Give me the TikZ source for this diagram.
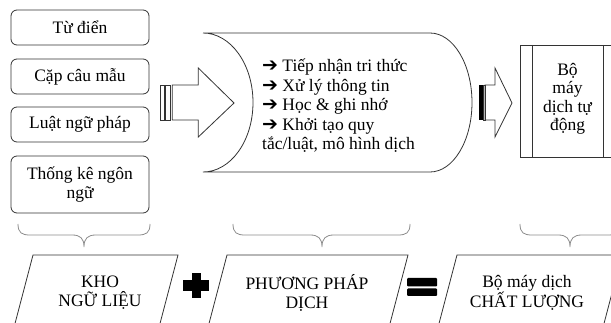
\documentclass[tikz,border=0pt]{standalone}
\usepackage{fontspec}
\setmainfont{Liberation Serif}
\newfontfamily\arrowfont{DejaVu Sans}
\newcommand{\myarr}{{\arrowfont\fontsize{19}{19}\selectfont ➔}}
\begin{document}
\begin{tikzpicture}[x=1pt,y=-1pt,
  srcbox/.style={draw=black!80,line width=0.8pt,rounded corners=6pt,minimum width=138pt,align=center,font=\fontsize{17.5}{19.5}\selectfont},
  outl/.style={draw=black!80,line width=0.8pt},
  bracecol/.style={draw=black!45,line width=0.8pt},
  txt/.style={align=center,font=\fontsize{17.5}{19}\selectfont,inner sep=0pt}
]
\useasboundingbox (0,0) rectangle (611,323);
\clip (0,0) rectangle (611,323);

% source boxes
\node[srcbox,minimum height=35pt] (b1) at (80,27.5) {Từ điển};
\node[srcbox,minimum height=35pt] (b2) at (80,76.5) {Cặp câu mẫu};
\node[srcbox,minimum height=35pt] (b3) at (80,124.5) {Luật ngữ pháp};
\node[srcbox,minimum height=57pt] (b4) at (80,184.5) {Thống kê ngôn\\ngữ};

% big hollow arrow
\draw[outl] (160.7,85) rectangle (164,120);
\draw[outl] (165.7,85) rectangle (170,120);
\draw[outl,line join=miter] (172.3,85) -- (198.3,85) -- (198.3,68) -- (234,103) -- (198.3,137) -- (198.3,120) -- (172.3,120) -- cycle;

% cylinder process shape
\draw[outl] (203,33) -- (430,33) arc[start angle=-90,end angle=90,x radius=42,y radius=69.5]
  -- (203,172) arc[start angle=90,end angle=-90,x radius=50,y radius=69.5];
\node[anchor=west,align=left,font=\fontsize{17.5}{19.5}\selectfont,inner sep=0pt] (proc) at (262,106)
 {\myarr{} Tiếp nhận tri thức\\
  \myarr{} Xử lý thông tin\\
  \myarr{} Học \& ghi nhớ\\
  \myarr{} Khởi tạo quy\\
  tắc/luật, mô hình dịch};

% small arrow
\fill[black] (479,85) rectangle (483.5,120);
\draw[outl] (483.5,85) rectangle (485,120);
\draw[outl,line join=miter] (485,85) -- (495,85) -- (495,68) -- (512,103) -- (495,137) -- (495,120) -- (485,120) -- cycle;

% engine box
\draw[outl] (520,45) rectangle (630,157);
\draw[outl] (532,45) -- (532,157);
\draw[outl] (603,45) -- (603,157);
\node[txt,font=\fontsize{17.5}{18.5}\selectfont] (eng) at (567.5,99) {Bộ\\máy\\dịch tự\\động};

% braces
\draw[bracecol] (18,224) .. controls (18,233) and (22,235) .. (30,235) -- (72,235) .. controls (80,235) and (84,238) .. (84,247)
  .. controls (84,238) and (88,235) .. (96,235) -- (138,235) .. controls (146,235) and (150,233) .. (150,224);
\draw[bracecol] (233,224) .. controls (233,233) and (237,235) .. (245,235) -- (310,235) .. controls (318,235) and (322,238) .. (322,247)
  .. controls (322,238) and (326,235) .. (334,235) -- (398,235) .. controls (406,235) and (410,233) .. (410,224);
\draw[bracecol] (520,224) .. controls (520,233) and (524,235) .. (532,235) -- (558,235) .. controls (566,235) and (570,238) .. (570,247)
  .. controls (570,238) and (574,235) .. (582,235) -- (608,235) .. controls (616,235) and (620,233) .. (620,224);

% parallelograms
\draw[outl] (12,335) -- (33,255) -- (178,255) -- (157,335);
\draw[outl] (206,335) -- (227,255) -- (408,255) -- (387,335);
\draw[outl] (436,335) -- (457,255) -- (622,255) -- (601,335);
\node[txt] (kho) at (100,293) {KHO\\NGỮ LIỆU};
\node[txt] (ppd) at (307,293) {PHƯƠNG PHÁP\\DỊCH};
\node[txt] (bmd) at (527,293) {Bộ máy dịch\\CHẤT LƯỢNG};

% plus and equals
\fill[black] (183,280) rectangle (209,291);
\fill[black] (191.5,273) rectangle (201,298);
\fill[black,rounded corners=1pt] (407,278) rectangle (437,286.5);
\fill[black,rounded corners=1pt] (407,288.5) rectangle (437,296);
\end{tikzpicture}
\end{document}
